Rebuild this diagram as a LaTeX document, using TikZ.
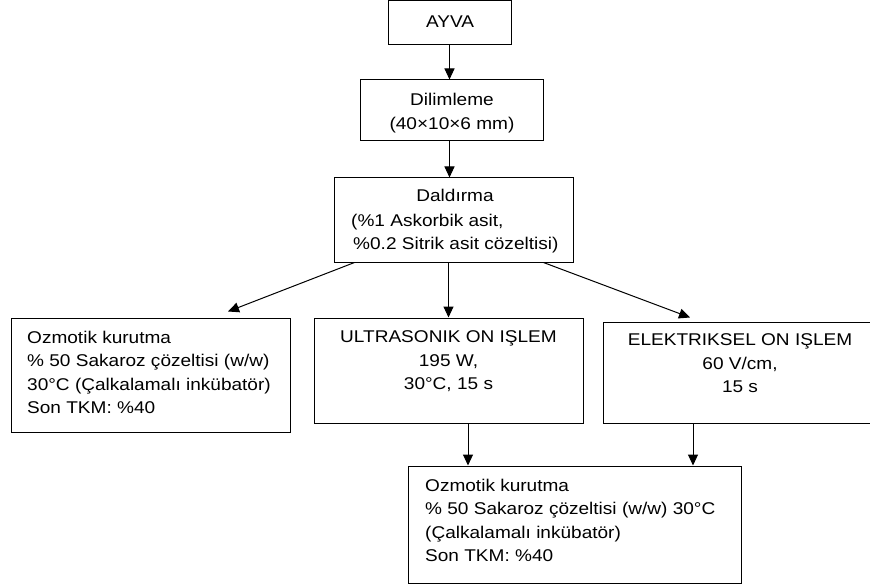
\documentclass[tikz,border=0pt]{standalone}
\usepackage{fontspec}
\setmainfont{Liberation Sans}[FakeStretch=1.12]
\usetikzlibrary{arrows.meta}
\begin{document}
\begin{tikzpicture}[x=1pt,y=-1pt,
  box/.style={draw=black, line width=1pt, rectangle, inner sep=0pt},
  txt/.style={inner sep=0pt, font=\fontsize{17}{23.5}\selectfont},
  arr/.style={line width=1pt, -{Triangle[length=11pt,width=10pt]}}]
\useasboundingbox (0,0) rectangle (870,588);
% boxes
\node[box, minimum width=123pt, minimum height=44.5pt] (ayva) at (449.5,22.75) {};
\node[box, minimum width=183pt, minimum height=61pt] (dil) at (451.5,110.5) {};
\node[box, minimum width=239pt, minimum height=84pt] (dal) at (453.5,220) {};
\node[box, minimum width=279pt, minimum height=114pt] (left) at (150.5,375) {};
\node[box, minimum width=269pt, minimum height=105pt] (mid) at (448.5,370.5) {};
\node[box, minimum width=274pt, minimum height=101pt] (right) at (740,372.5) {};
\node[box, minimum width=333pt, minimum height=117pt] (bot) at (574.5,524.5) {};
% texts
\node[txt] (ayvat) at (450,22) {AYVA};
\node[txt, anchor=north, align=center] (dilt) at (452,93) {Dilimleme\\(40×10×6 mm)};
\node[txt, anchor=north] (dalt) at (455,188.7) {Daldırma};
\node[txt, anchor=north west, align=left] (dalb) at (351,213.7) {(\%1 Askorbik asit,\\\hspace*{2pt}\%0.2 Sitrik asit cözeltisi)};
\node[txt, anchor=north west, align=left] (leftt) at (27,330.7) {Ozmotik kurutma\\\% 50 Sakaroz çözeltisi (w/w)\\30°C (Çalkalamalı inkübatör)\\Son TKM: \%40};
\node[txt, anchor=north, align=center] (midt) at (448.5,330.7) {ULTRASONIK ON IŞLEM\\195 W,\\30°C, 15 s};
\node[txt, anchor=north, align=center] (rightt) at (740,333.7) {ELEKTRIKSEL ON IŞLEM\\60 V/cm,\\15 s};
\node[txt, anchor=north west, align=left] (bott) at (425,478.7) {Ozmotik kurutma\\\% 50 Sakaroz çözeltisi (w/w) 30°C\\(Çalkalamalı inkübatör)\\Son TKM: \%40};
% connectors
\draw[arr] (ayva.south) -- (ayva.south |- dil.north);
\draw[arr] (dil.south -| ayva.south) -- (dal.north -| ayva.south);
\draw[arr] (dal.south -| mid.north) -- (mid.north);
\draw[arr] ([xshift=21pt]dal.south west) -- ([shift={(77.5pt,6pt)}]left.north);
\draw[arr] ([xshift=-30pt]dal.south east) -- ([shift={(-50pt,4pt)}]right.north);
\draw[arr] ([xshift=19.5pt]mid.south) -- ([xshift=19.5pt]mid.south |- bot.north);
\draw[arr] ([xshift=-47pt]right.south) -- ([xshift=-47pt]right.south |- bot.north);
\end{tikzpicture}
\end{document}
